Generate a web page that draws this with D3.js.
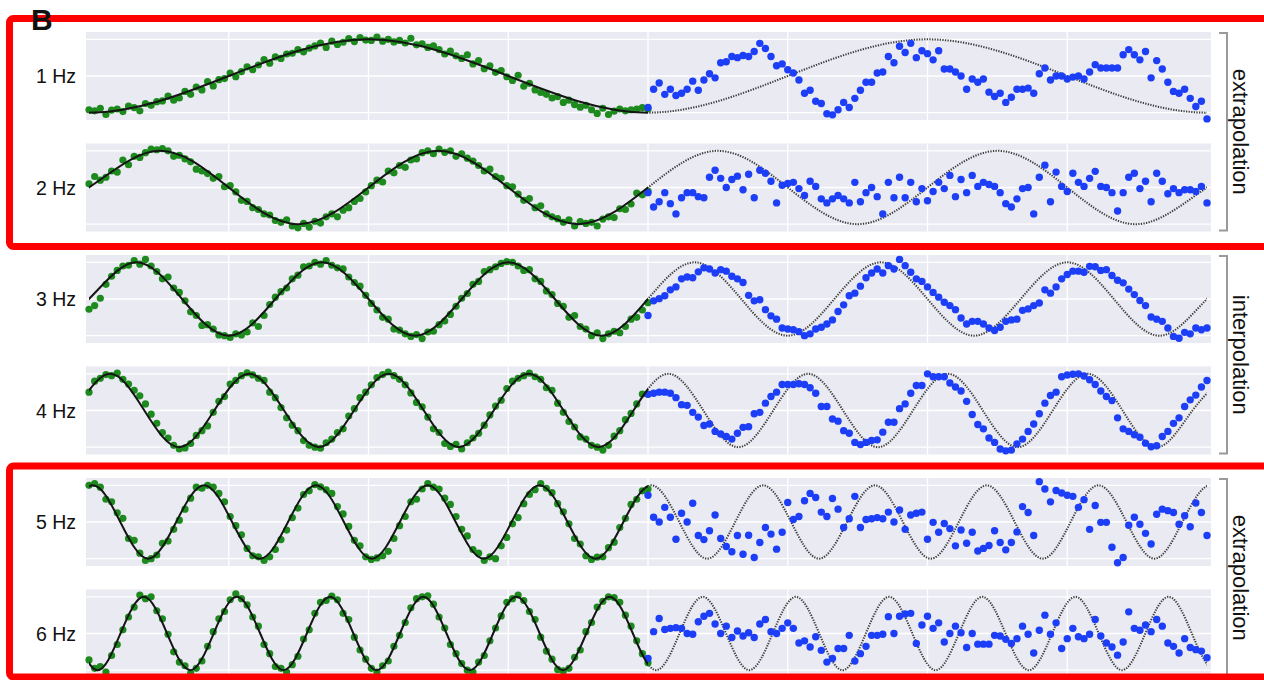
<!DOCTYPE html>
<html>
<head>
<meta charset="utf-8">
<script src="https://cdn.jsdelivr.net/npm/d3@7"></script>
<style>
  body { margin: 0; background: #fff; }
  svg { display: block; font-family: "Liberation Sans", Arial, Helvetica, sans-serif; }
</style>
</head>
<body>
<script>
const W = 1264, H = 680;

// labels
const freqLabels = ["1 Hz", "2 Hz", "3 Hz", "4 Hz", "5 Hz", "6 Hz"];
const groupLabels = ["extrapolation", "interpolation", "extrapolation"];
const gridT = [0.25, 0.5, 0.75, 1, 1.25, 1.5, 1.75];
const gridV = [-1, 0, 1];

// training points (green), t = 0..1
const green1 = [-0.92,-0.95,-0.88,-1.05,-0.93,-0.9,-0.97,-0.82,-0.86,-0.95,
  -0.75,-0.8,-0.7,-0.68,-0.55,-0.66,-0.6,-0.42,-0.5,-0.3,
  -0.38,-0.15,-0.27,-0.1,-0.07,0.08,-0.02,0.12,0.25,0.17,
  0.3,0.45,0.35,0.52,0.48,0.6,0.62,0.72,0.66,0.76,
  0.82,0.9,0.78,0.95,0.86,0.92,1.02,0.94,1.05,0.98,
  0.97,1.06,0.95,1.0,0.93,0.97,0.9,1.03,0.85,0.88,
  0.78,0.82,0.72,0.6,0.68,0.55,0.48,0.58,0.33,0.42,
  0.2,0.28,0.1,0.15,-0.02,-0.12,0.02,-0.28,-0.2,-0.38,
  -0.45,-0.5,-0.6,-0.56,-0.72,-0.66,-0.78,-0.85,-0.8,-0.92,
  -1.02,-0.88,-1.05,-0.96,-0.9,-0.95,-0.92,-0.9,-0.86,-0.9];
const green2 = [0.1,0.3,0.2,0.28,0.45,0.42,0.75,0.62,0.85,0.82,
  0.95,1.05,1.03,1.06,1.0,0.85,0.88,0.78,0.7,0.5,
  0.45,0.38,0.25,0.3,0.02,0.05,-0.12,-0.35,-0.38,-0.55,
  -0.6,-0.72,-0.75,-0.9,-0.95,-0.88,-1.05,-1.1,-0.98,-1.08,
  -0.92,-0.97,-0.8,-0.72,-0.8,-0.62,-0.55,-0.38,-0.3,-0.12,
  0.05,0.2,0.15,0.45,0.4,0.6,0.55,0.75,0.78,0.95,
  1.0,0.92,1.05,0.96,1.0,0.85,0.92,0.8,0.72,0.6,
  0.45,0.5,0.3,0.25,0.05,0.02,-0.18,-0.35,-0.3,-0.55,
  -0.5,-0.72,-0.8,-0.85,-0.95,-0.88,-1.05,-0.93,-0.98,-0.95,
  -1.05,-0.86,-0.8,-0.82,-0.58,-0.6,-0.45,-0.15,-0.2,-0.1];
const green3 = [-0.28,-0.18,0.02,0.4,0.62,0.78,0.9,0.92,1.05,0.95,1.08,0.9,0.75,0.55,0.6,0.3,0.18,
  -0.05,-0.35,-0.45,-0.72,-0.7,-0.82,-0.98,-1.0,-1.05,-0.95,-0.98,-0.9,-0.65,-0.75,-0.45,-0.15,
  0.05,0.2,0.3,0.55,0.65,0.88,0.9,1.0,0.95,1.05,0.92,0.85,0.82,0.6,0.45,0.35,0.1,
  -0.12,-0.3,-0.5,-0.55,-0.82,-0.85,-0.95,-1.02,-0.97,-1.08,-0.9,-0.88,-0.7,-0.6,-0.42,-0.2,
  0.02,0.15,0.4,0.48,0.75,0.8,0.88,0.97,1.02,1.0,0.9,0.78,0.8,0.55,0.48,0.22,0.12,
  -0.12,-0.2,-0.5,-0.45,-0.75,-0.82,-1.0,-0.92,-1.08,-0.95,-0.88,-0.92,-0.75,-0.55,-0.5,-0.3,-0.1];
const green4 = [0.5,0.8,0.88,0.98,0.95,1.02,0.85,0.72,0.55,0.4,0.18,-0.1,-0.35,-0.6,-0.75,-0.95,-1.05,-1.02,-0.9,-0.68,-0.55,-0.42,-0.05,0.25,0.38,
  0.72,0.82,0.95,1.03,0.97,0.88,0.82,0.5,0.35,0.08,-0.2,-0.4,-0.55,-0.82,-0.95,-1.0,-1.03,-0.88,-0.78,-0.6,-0.5,-0.15,0.05,0.35,0.5,
  0.7,0.9,0.98,1.05,0.95,0.85,0.7,0.48,0.22,0.1,-0.18,-0.5,-0.6,-0.9,-0.98,-0.92,-1.05,-0.88,-0.75,-0.62,-0.4,-0.12,0.12,0.28,0.6,
  0.8,0.88,0.95,1.02,0.92,0.85,0.62,0.55,0.2,-0.05,-0.3,-0.45,-0.72,-0.78,-0.95,-1.0,-1.08,-0.95,-0.7,-0.55,-0.25,-0.08,0.18,0.45,0.45];
const green5 = [1.0,1.05,0.95,0.62,0.55,0.25,0.1,-0.45,-0.5,-0.85,-1.05,-1.0,-0.9,-0.58,-0.52,-0.2,0.05,0.35,0.65,0.95,
  0.92,1.0,0.95,0.78,0.55,0.15,-0.1,-0.35,-0.72,-0.92,-0.95,-1.05,-0.95,-0.75,-0.48,-0.22,0.12,0.38,0.75,0.85,
  1.02,0.96,0.88,0.78,0.42,0.22,-0.12,-0.5,-0.65,-0.95,-1.02,-0.98,-0.92,-0.8,-0.45,-0.1,0.15,0.55,0.62,0.9,
  1.05,0.95,0.9,0.65,0.48,0.15,-0.2,-0.38,-0.75,-0.85,-1.05,-0.95,-1.0,-0.65,-0.42,-0.05,0.12,0.5,0.75,0.88,
  1.05,0.92,0.8,0.5,0.28,-0.05,-0.45,-0.6,-0.92,-1.02,-0.96,-0.95,-0.7,-0.55,-0.15,0.1,0.48,0.62,0.85,0.9];
const green6 = [-0.72,-0.95,-0.9,-1.05,-0.6,-0.3,0.1,0.45,0.72,1.05,
  0.95,1.0,0.62,0.4,-0.02,-0.5,-0.78,-0.88,-1.08,-0.95,
  -0.75,-0.35,0.05,0.4,0.6,0.92,1.08,0.95,0.78,0.45,
  0.2,-0.3,-0.55,-0.9,-0.95,-1.05,-0.85,-0.62,-0.15,0.1,
  0.55,0.85,0.9,1.02,0.92,0.55,0.38,-0.1,-0.45,-0.7,
  -0.95,-1.05,-0.88,-0.75,-0.35,-0.05,0.3,0.7,0.95,1.0,
  1.03,0.8,0.45,0.15,-0.3,-0.55,-0.82,-1.0,-1.05,-0.78,
  -0.6,-0.2,0.15,0.48,0.85,0.95,1.05,0.9,0.6,0.38,
  -0.1,-0.48,-0.7,-0.98,-1.02,-0.95,-0.65,-0.45,0.05,0.3,
  0.72,0.88,1.0,0.98,0.85,0.5,0.2,-0.2,-0.55,-0.8];

// predicted points (blue), t = 1..2
const blue1 = [-0.86,-0.36,-0.19,-0.5,-0.36,-0.53,-0.47,-0.36,-0.14,-0.39,-0.11,
  0.06,-0.05,0.36,0.39,0.53,0.5,0.56,0.53,0.67,0.89,
  0.75,0.53,0.28,0.33,0.17,0.08,-0.11,-0.47,-0.39,-0.69,
  -0.75,-1.03,-1.06,-0.92,
  -0.72,-0.86,-0.61,-0.39,-0.17,-0.17,0.08,0.11,0.53,0.36,
  0.81,0.64,0.89,0.5,0.69,0.61,0.44,0.69,0.19,0.19,
  0.11,0,-0.36,-0.08,-0.17,-0.08,-0.44,-0.56,-0.47,-0.72,
  -0.58,-0.36,-0.36,-0.33,-0.47,0.06,0.22,-0.11,0,0,
  -0.08,-0.03,0,-0.08,0.11,0.31,0.22,0.22,0.22,0.22,
  0.58,0.72,0.58,0.44,0.67,-0.05,0.42,0.19,-0.17,-0.42,
  -0.47,-0.36,-0.61,-0.83,-0.69,-1.17];
const blue2 = [-0.14,-0.53,-0.39,-0.14,-0.44,-0.72,-0.28,-0.14,-0.14,-0.25,-0.28,
  0.28,0.47,0.25,0,0.22,0.31,-0.06,0.36,-0.28,0.47,
  0.39,0.17,-0.42,0.06,0.11,0.14,-0.03,-0.22,0.17,0.03,
  -0.31,-0.42,-0.31,-0.22,
  -0.31,-0.42,0.14,-0.39,-0.14,0,-0.25,-0.72,0.14,-0.28,
  0.28,-0.28,0.14,-0.39,-0.03,-0.36,-0.11,0.14,-0.03,0.33,
  -0.25,0.22,-0.14,0.33,0.03,0.14,0.08,0.03,-0.14,-0.44,
  -0.53,-0.31,-0.03,0,-0.72,0.28,0.61,-0.39,0.42,0.03,
  -0.11,0.39,0.14,0.03,0.25,0.44,0.03,0,-0.14,-0.64,
  -0.14,0.28,0.39,-0.03,0.17,-0.39,0.39,0.17,-0.17,-0.03,
  -0.14,-0.06,-0.06,-0.11,0.03,-0.42];
const blue3 = [-0.45,-0.05,0.01,0.09,0.25,0.33,0.55,0.6,0.58,0.74,0.85,0.82,0.71,0.8,0.76,0.62,0.55,0.45,
  0.1,-0.05,-0.02,-0.29,-0.46,-0.55,-0.79,-0.82,-0.84,-0.89,-1.0,-0.95,-0.82,-0.77,-0.68,-0.57,-0.34,
  -0.16,0.09,0.16,0.35,0.58,0.71,0.82,0.71,0.91,0.82,
  1.08,0.91,0.73,0.55,0.48,0.33,0.18,0.05,-0.09,-0.18,
  -0.29,-0.52,-0.68,-0.61,-0.61,-0.68,-0.79,-0.86,-0.77,-0.61,
  -0.57,-0.55,-0.31,-0.27,-0.18,-0.11,0.25,0.16,0.33,0.55,
  0.67,0.76,0.76,0.73,0.89,0.88,0.78,0.8,0.64,0.51,
  0.44,0.27,0.12,-0.04,-0.18,-0.49,-0.55,-0.61,-0.79,-1.02,
  -1.07,-0.91,-0.95,-0.79,-0.84,-0.79];
const blue4 = [0.44,0.47,0.5,0.5,0.47,0.35,0.16,0.14,-0.05,-0.18,-0.41,-0.37,-0.57,-0.64,-0.71,-0.78,-0.62,-0.46,
  -0.44,-0.09,-0.05,0.2,0.38,0.5,0.71,0.71,0.71,0.73,0.71,0.62,0.47,0.11,0.11,-0.23,-0.29,
  -0.55,-0.62,-0.87,-0.93,-0.87,-0.82,-0.8,-0.59,-0.32,-0.32,
  0.05,0.18,0.47,0.68,0.68,1.0,0.92,0.92,0.92,0.75,
  0.64,0.53,0.25,-0.11,-0.38,-0.5,-0.75,-0.87,-1.05,-1.1,
  -1.08,-0.91,-0.78,-0.57,-0.37,-0.09,0.2,0.41,0.5,0.92,
  0.97,0.99,1.0,0.94,0.84,0.71,0.53,0.38,0.27,-0.2,
  -0.5,-0.57,-0.66,-0.73,-0.89,-0.99,-0.96,-0.71,-0.57,-0.35,
  -0.2,0.11,0.29,0.42,0.64,0.82];
const blue5 = [0.73,0.13,0,0.4,0.13,-0.47,0.24,0,0.51,-0.37,-0.48,-0.24,0.19,-0.45,-0.67,-0.81,-0.37,-0.88,
  -0.36,-0.97,-0.56,-0.15,-0.33,-0.74,-0.28,0.53,0.07,0.15,0.58,0.78,0.67,0.27,0.15,0.64,0.35,
  -0.15,0.09,0.7,-0.15,0.07,0.09,0.12,0.09,0.27,0,
  0.33,-0.2,0.19,0.24,0.27,-0.47,-0.01,-0.28,-0.04,-0.18,
  -0.65,-0.22,-0.58,-0.28,-0.79,-0.72,-0.64,-0.24,-0.56,-0.76,
  -0.56,-0.27,0.42,0.26,-0.37,1.1,0.9,0.55,0.86,0.79,
  0.73,0.7,0.4,0.61,-0.2,0.45,-0.01,-0.01,-0.69,-1.11,
  -0.97,-0.09,0.13,-0.06,-0.31,-0.6,0.21,0.35,0.31,0.26,
  -0.06,0.17,-0.13,0.52,0.26,-0.37];
const blue6 = [-0.68,0.05,0.41,0.11,0.14,0.16,0.14,0,-0.02,0.32,0.47,0.55,0.26,0,0.2,-0.11,0.07,-0.07,
  0.02,-0.11,0.26,0.38,0.05,0,0.14,0.29,0.14,-0.26,-0.2,-0.37,-0.09,-0.46,-0.78,-0.68,-0.41,
  -0.41,-0.05,-0.75,-0.55,-0.35,-0.05,-0.05,-0.02,0.46,0,
  0.47,0.53,0.55,-0.27,0.23,0.47,0.14,0.29,-0.23,0,
  0.2,0.02,-0.38,0,-0.29,-0.29,-0.29,-0.05,-0.07,-0.16,
  -0.27,-0.14,0.2,-0.02,-0.53,0.09,0.5,-0.02,0.29,-0.41,
  -0.14,0.14,-0.09,-0.14,-0.02,0.38,-0.07,-0.26,-0.37,-0.59,
  -0.23,0.59,0.14,0.09,0.23,0.05,0.38,0.2,-0.26,-0.35,
  -0.53,-0.14,-0.38,-0.44,-0.48,-0.66];

// true signal: values at quarter periods, from lineStart in steps of lineStep
const knots1 = [0,-1,0,1,0,-1,0,1,0,-1,0];
const knots2 = [-1,0,1,0,-1,0,1,0,-1,0,1,0,-1,0,1,0,-1,0,1];
const knots3 = [-1,0,1,0,-1,0,1,0,-1,0,1,0,-1,0,1,0,-1,0,1,0,-1,0,1,0,-1,0,1];
const knots4 = [-1,0,1,0,-1,0,1,0,-1,0,1,0,-1,0,1,0,-1,0,1,0,-1,0,1,0,-1,0,1,0,-1,0,1,0,-1,0,1];
const knots5 = [-1,0,1,0,-1,0,1,0,-1,0,1,0,-1,0,1,0,-1,0,1,0,-1,0,1,0,-1,0,1,0,-1,0,1,0,-1,0,1,0,-1,0,1,0,-1,0,1,0];
const knots6 = [1,0,-1,0,1,0,-1,0,1,0,-1,0,1,0,-1,0,1,0,-1,0,1,0,-1,0,1,0,-1,0,1,0,-1,0,1,0,-1,0,1,0,-1,0,1,0,-1,0,1,0,-1,0,1,0,-1,0];
const lineStart = [-0.25, -0.125, -1/12, -0.0885, -0.094, -0.0687];
const lineStep = [0.25, 0.125, 1/12, 0.0625, 0.05, 1/24];

const greens = [green1, green2, green3, green4, green5, green6];
const blues = [blue1, blue2, blue3, blue4, blue5, blue6];
const knots = [knots1, knots2, knots3, knots4, knots5, knots6];

const svg = d3.select("body").append("svg").attr("width", W).attr("height", H);
const defs = svg.append("defs");

const x = d3.scaleLinear().domain([0, 2]).range([89, 1207]);
const panelTop = 32, panelStep = 111.5, panelH = 88;
const bgLeft = 86, bgRight = 1211;

let drawPanel = (p) => {
  const top = panelTop + p * panelStep;
  const y = d3.scaleLinear().domain([-1.2, 1.2]).range([top + panelH, top]);
  const g = svg.append("g");

  g.append("rect").attr("x", bgLeft).attr("y", top)
    .attr("width", bgRight - bgLeft).attr("height", panelH).attr("fill", "#eaeaf2");

  g.selectAll(".gv").data(gridT).enter().append("line")
    .attr("x1", d => x(d)).attr("x2", d => x(d))
    .attr("y1", top).attr("y2", top + panelH)
    .attr("stroke", "#fff").attr("stroke-width", 1.3);
  g.selectAll(".gh").data(gridV).enter().append("line")
    .attr("x1", bgLeft).attr("x2", bgRight)
    .attr("y1", d => y(d)).attr("y2", d => y(d))
    .attr("stroke", "#fff").attr("stroke-width", 1.3);

  g.append("text").attr("x", 76).attr("y", y(0)).attr("dy", "0.36em")
    .attr("text-anchor", "end").attr("font-size", 19.5).attr("fill", "#111")
    .text(freqLabels[p]);

  // clip regions for the known and unknown part of the signal
  defs.append("clipPath").attr("id", "solid" + p).append("rect")
    .attr("x", x(0)).attr("y", top - 10).attr("width", x(1) - x(0)).attr("height", panelH + 20);
  defs.append("clipPath").attr("id", "dot" + p).append("rect")
    .attr("x", x(1)).attr("y", top - 10).attr("width", x(2) - x(1)).attr("height", panelH + 20);

  const pts = knots[p].map((v, k) => [lineStart[p] + k * lineStep[p], v]);
  const line = d3.line().x(d => x(d[0])).y(d => y(d[1])).curve(d3.curveNatural);

  g.append("path").attr("d", line(pts)).attr("clip-path", `url(#dot${p})`)
    .attr("fill", "none").attr("stroke", "#3c3c3c").attr("stroke-width", 2)
    .attr("stroke-dasharray", "1.3,1.3");

  const gd = greens[p], bd = blues[p];
  g.selectAll(".green").data(gd).enter().append("circle")
    .attr("cx", (d, i) => x(i / (gd.length - 1)))
    .attr("cy", d => y(d)).attr("r", 3.6).attr("fill", "#1c8a1c");
  g.selectAll(".blue").data(bd).enter().append("circle")
    .attr("cx", (d, i) => x(1 + i / (bd.length - 1)))
    .attr("cy", d => y(d)).attr("r", 3.7).attr("fill", "#1c3ef7");

  g.append("path").attr("d", line(pts)).attr("clip-path", `url(#solid${p})`)
    .attr("fill", "none").attr("stroke", "#151515").attr("stroke-width", 2);
};

d3.range(6).forEach(drawPanel);

// group brackets and labels
groupLabels.forEach((lab, k) => {
  const y0 = panelTop + 2 * k * panelStep;
  const y1 = y0 + panelStep + panelH;
  svg.append("path")
    .attr("d", `M1219,${y0 + 1}H1227V${y1 - 1}H1219`)
    .attr("fill", "none").attr("stroke", "#9a9a9a").attr("stroke-width", 2);
  const cy = (y0 + y1) / 2;
  svg.append("text").attr("transform", `translate(1241,${cy}) rotate(90)`)
    .attr("text-anchor", "middle").attr("dy", "0.35em")
    .attr("font-size", 22).attr("fill", "#111").text(lab);
});

// red highlight frames
const frames = [[18.5, 246.5], [466, 677]];
svg.selectAll(".frame").data(frames).enter().append("rect")
  .attr("x", 9.5).attr("y", d => d[0]).attr("width", 1264)
  .attr("height", d => d[1] - d[0]).attr("rx", 4)
  .attr("fill", "none").attr("stroke", "#ff0000").attr("stroke-width", 7);

svg.append("text").attr("x", 31).attr("y", 30).attr("font-size", 30)
  .attr("font-weight", "bold").attr("fill", "#111").text("B");
</script>
</body>
</html>
